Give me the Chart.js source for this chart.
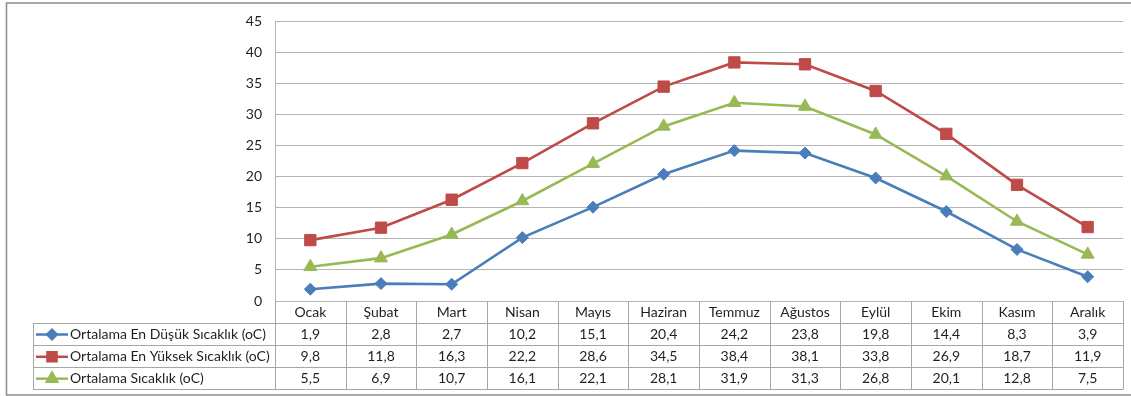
<!DOCTYPE html>
<html>
<head>
<meta charset="utf-8">
<script src="https://cdn.jsdelivr.net/npm/chart.js@4/dist/chart.umd.min.js"></script>
<style>
  html, body { margin: 0; padding: 0; background: #fff; }
  #wrap { width: 1131px; height: 396px; }
</style>
</head>
<body>
<div id="wrap"><canvas id="c" width="1131" height="396"></canvas></div>
<script>
// Aylar ve aylık ortalama sıcaklıklar
const months = ['Ocak', 'Şubat', 'Mart', 'Nisan', 'Mayıs', 'Haziran', 'Temmuz', 'Ağustos', 'Eylül', 'Ekim', 'Kasım', 'Aralık'];
const minTemps = [1.9, 2.8, 2.7, 10.2, 15.1, 20.4, 24.2, 23.8, 19.8, 14.4, 8.3, 3.9];
const maxTemps = [9.8, 11.8, 16.3, 22.2, 28.6, 34.5, 38.4, 38.1, 33.8, 26.9, 18.7, 11.9];
const avgTemps = [5.5, 6.9, 10.7, 16.1, 22.1, 28.1, 31.9, 31.3, 26.8, 20.1, 12.8, 7.5];
const seriesNames = ['Ortalama En Düşük Sıcaklık (oC)', 'Ortalama En Yüksek Sıcaklık (oC)', 'Ortalama Sıcaklık (oC)'];
const yTicks = [0, 5, 10, 15, 20, 25, 30, 35, 40, 45];

const FONT = 'Lato, "Open Sans", sans-serif';
const TEXT = '#1f1f1f';
const GRID = '#b4b4b4';
const TABLE_LINE = '#a6a6a6';

const fmt = v => v.toFixed(1).replace('.', ',');

// Veri tablosu: ay başlıkları, seri anahtarları ve değerler
const dataTable = {
  id: 'dataTable',
  beforeDraw(chart) {
    const ctx = chart.ctx;
    ctx.save();
    ctx.fillStyle = '#fff';
    ctx.fillRect(0, 0, chart.width, chart.height);
    ctx.restore();
  },
  afterDraw(chart) {
    const ctx = chart.ctx;
    const area = chart.chartArea;
    const xs = chart.scales.x;
    const left = area.left, right = area.right;
    const colW = (right - left) / months.length;
    const tableLeft = 33;
    const headTop = area.bottom;
    const rowLines = [322.7, 345.3, 367.3, 389];
    ctx.save();
    ctx.strokeStyle = TABLE_LINE;
    ctx.lineWidth = 1;
    // yatay çizgiler
    rowLines.forEach(y => {
      ctx.beginPath();
      ctx.moveTo(tableLeft, Math.round(y) + 0.5);
      ctx.lineTo(right, Math.round(y) + 0.5);
      ctx.stroke();
    });
    // dikey çizgiler
    ctx.beginPath();
    ctx.moveTo(tableLeft + 0.5, Math.round(rowLines[0]) + 0.5);
    ctx.lineTo(tableLeft + 0.5, Math.round(rowLines[3]) + 0.5);
    ctx.stroke();
    for (let i = 0; i <= months.length; i++) {
      const x = Math.round(left + i * colW) + 0.5;
      ctx.beginPath();
      ctx.moveTo(x, headTop);
      ctx.lineTo(x, Math.round(rowLines[3]) + 0.5);
      ctx.stroke();
    }
    // başlıklar ve değerler
    ctx.fillStyle = TEXT;
    ctx.font = '14px ' + FONT;
    ctx.textAlign = 'center';
    ctx.textBaseline = 'middle';
    const headY = (headTop + rowLines[0]) / 2 + 0.5;
    const rowsY = [
      (rowLines[0] + rowLines[1]) / 2 + 0.5,
      (rowLines[1] + rowLines[2]) / 2 + 0.5,
      (rowLines[2] + rowLines[3]) / 2 + 0.5
    ];
    months.forEach((m, i) => {
      const cx = xs.getPixelForValue(i);
      ctx.fillText(m, cx, headY);
      chart.data.datasets.forEach((ds, k) => {
        ctx.fillText(fmt(ds.data[i]), cx, rowsY[k]);
      });
    });
    // seri anahtarları
    ctx.textAlign = 'left';
    chart.data.datasets.forEach((ds, k) => {
      const y = rowsY[k];
      ctx.strokeStyle = ds.borderColor;
      ctx.lineWidth = 2.5;
      ctx.beginPath();
      ctx.moveTo(36, y);
      ctx.lineTo(68, y);
      ctx.stroke();
      Chart.helpers.drawPoint(ctx, {
        pointStyle: ds.pointStyle,
        radius: ds.pointRadius * 0.8,
        borderWidth: 1
      }, 52, y);
      ctx.fillStyle = ds.backgroundColor;
      ctx.strokeStyle = ds.borderColor;
      ctx.fill();
      ctx.fillStyle = TEXT;
      ctx.fillText(seriesNames[k], 70, y);
    });
    // dış çerçeve
    ctx.strokeStyle = '#8c8c8c';
    ctx.lineWidth = 1.5;
    ctx.strokeRect(6.5, 3, chart.width + 20, 392);
    ctx.restore();
  }
};

const mk = (label, data, color, style, r) => ({
  label, data,
  borderColor: color,
  backgroundColor: color,
  borderWidth: 2.6,
  pointStyle: style,
  pointRadius: r,
  pointHoverRadius: r,
  pointBackgroundColor: color,
  pointBorderColor: color,
  pointBorderWidth: 1,
  tension: 0
});

new Chart(document.getElementById('c'), {
  type: 'line',
  data: {
    labels: months,
    datasets: [
      mk(seriesNames[0], minTemps, '#4a7ebb', 'rectRot', 6),
      mk(seriesNames[1], maxTemps, '#be4b48', 'rect', 8),
      mk(seriesNames[2], avgTemps, '#98b954', 'triangle', 7.5)
    ]
  },
  options: {
    responsive: false,
    animation: false,
    events: [],
    layout: { autoPadding: false, padding: { left: 0, right: 8, top: 18, bottom: 0 } },
    plugins: { legend: { display: false }, tooltip: { enabled: false } },
    scales: {
      x: {
        offset: true,
        ticks: { display: false },
        grid: { display: false, drawTicks: false },
        border: { display: true, color: GRID, width: 1 },
        afterFit(s) { s.height = 95; }
      },
      y: {
        min: 0, max: 45,
        afterBuildTicks(s) { s.ticks = yTicks.map(v => ({ value: v })); },
        ticks: { color: TEXT, font: { family: FONT, size: 14 }, padding: 13 },
        grid: { color: GRID, drawTicks: false },
        border: { display: true, color: GRID, width: 1 },
        afterFit(s) { s.width = 275; }
      }
    }
  },
  plugins: [dataTable]
});
</script>
</body>
</html>
